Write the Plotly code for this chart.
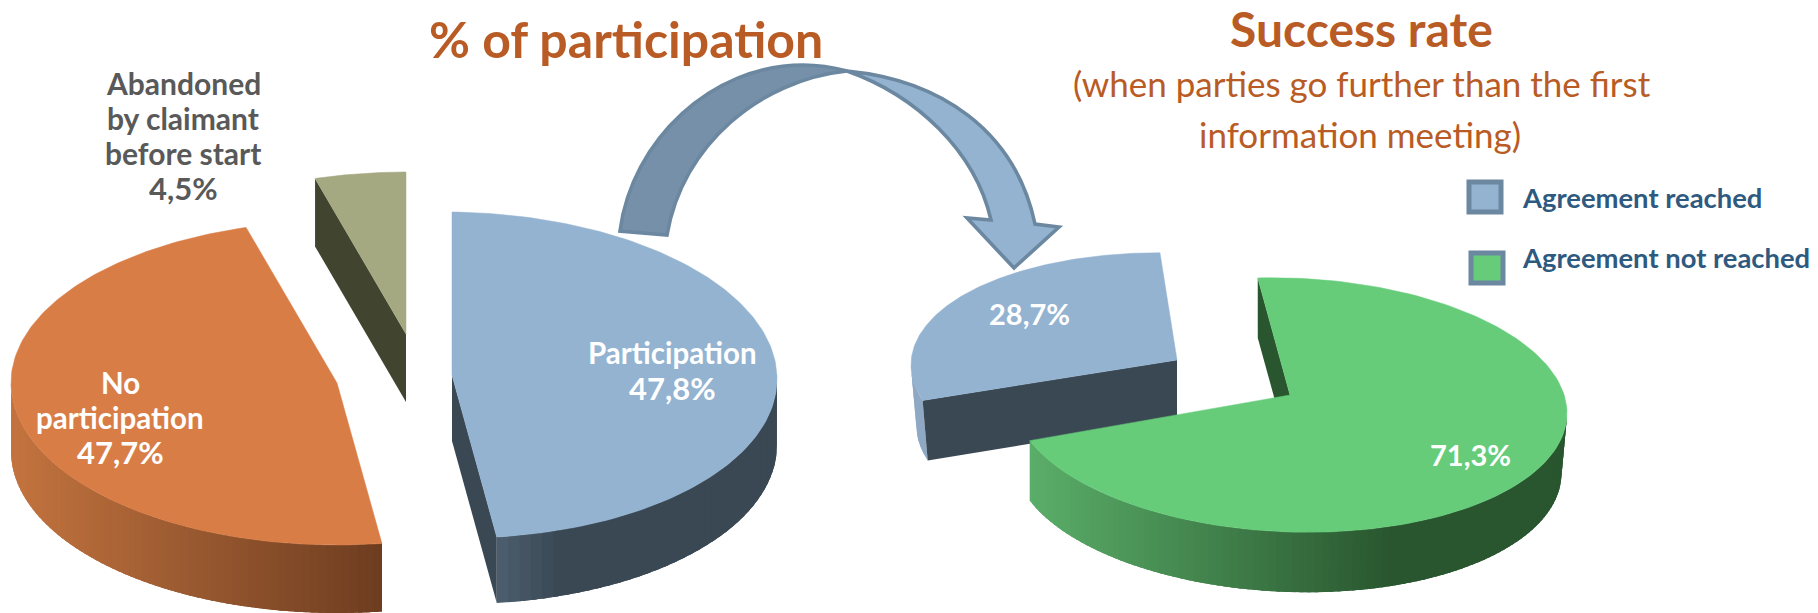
import numpy as np
import plotly.graph_objects as go

# ---------- data ----------
participation_labels = ["Participation", "No<br>participation", "Abandoned<br>by claimant<br>before start"]
participation_values = [47.8, 47.7, 4.5]
success_labels = ["Agreement reached", "Agreement not reached"]
success_values = [28.7, 71.3]

FONT = "Lato"
ORANGE_TXT = "#B95B25"
BLUE, BLUE_EDGE, BLUE_DARK = "#93B3D1", "#6C88A1", "#3A4854"
ORANGE = "#D97D47"
OLIVE, OLIVE_DARK = "#A4A981", "#41442F"
GREEN, GREEN_DARK = "#66CC7A", "#29562F"


def deg(values, start):
    """Cumulative clockwise angles (degrees from 12 o'clock) for percent values."""
    return start + np.concatenate([[0], np.cumsum(values)]) * 3.6


def pt(g, theta, depth=0.0):
    t = np.radians(theta)
    dx = g["rx"] * np.sin(t)
    y = g["cy"] - g["ry"] * np.cos(t) + g.get("tilt", 0) * dx
    if depth:
        dx = np.where(dx > 0, dx * g.get("shrink", 1), dx * g.get("shrink_l", 1))
        y = y + depth
    return g["cx"] + dx, y


def hexrgb(c):
    return np.array([int(c[i:i + 2], 16) for i in (1, 3, 5)], float)


def mix(stops, x):
    xs = [s[0] for s in stops]
    cs = np.array([hexrgb(s[1]) for s in stops])
    v = [np.interp(x, xs, cs[:, i]) for i in range(3)]
    return "rgb(%d,%d,%d)" % tuple(v)


fig = go.Figure()


def poly(x, y, color, lw=0.0):
    fig.add_trace(go.Scatter(
        x=list(x), y=list(y), mode="lines", fill="toself", fillcolor=color,
        line=dict(color=color, width=lw), hoverinfo="skip", showlegend=False))


def wall(g, a, b, stops, n=48):
    # strips are painted in order, each running over the next one, so no seams show
    ts = np.linspace(a, b, n + 1)
    step = ts[1] - ts[0]
    for i, t0 in enumerate(ts[:-1]):
        t1 = min(t0 + 2.5 * step, max(a, b)) if step > 0 else max(t0 + 2.5 * step, min(a, b))
        arc = np.linspace(t0, t1, 6)
        xt, yt = pt(g, arc)
        xb, yb = pt(g, arc, g["depth"])
        xm = pt(g, t0 + step / 2)[0]
        poly(np.r_[xt, xb[::-1], xt[0]], np.r_[yt, yb[::-1], yt[0]], mix(stops, float(xm)))


def cut(g, theta, color):
    x0, y0 = pt(g, theta)
    x1, y1 = pt(g, theta, g["depth"])
    ax, ay = g["ax"], g["ay"]
    poly([x0, ax, ax, x1, x0], [y0, ay, ay + g["depth"], y1, y0], color)


def top(g, a, b, color):
    ts = np.linspace(a, b, 160)
    x, y = pt(g, ts)
    poly(np.r_[g["ax"], x, g["ax"]], np.r_[g["ay"], y, g["ay"]], color, 0.5)


# ---------- left pie ----------
a = deg(participation_values, 0)
g_part = dict(cx=452, cy=375, ax=452, ay=375, rx=325, ry=163, depth=66, tilt=0.012)
g_none = dict(cx=337, cy=383, ax=337, ay=383, rx=326, ry=162, depth=68)
g_aban = dict(cx=406, cy=334, ax=406, ay=334, rx=326, ry=162, depth=68)

wall(g_part, a[1], 90, [(497, "#4D5E6F"), (560, BLUE_DARK), (777, BLUE_DARK)], 40)
cut(g_part, a[1], BLUE_DARK)
top(g_part, a[0], a[1], BLUE)

wall(g_none, 270, a[1], [(11, "#C4743F"), (190, "#9A5A31"), (382, "#6E3D20")], 70)
top(g_none, a[1], a[2], ORANGE)

cut(g_aban, a[2], OLIVE_DARK)
top(g_aban, a[2], a[3], OLIVE)

# ---------- right pie ----------
b_rea = deg(success_values, 253)
b_not = deg(success_values, 250)
g_rea = dict(cx=1177, cy=373, ax=1177, ay=360, rx=266, ry=120, depth=60, tilt=0.03, shrink_l=0.98)
g_not = dict(cx=1290, cy=405, ax=1290, ay=395, rx=277, ry=127, depth=60, tilt=0.03, shrink=0.98)

wall(g_rea, b_rea[0], 270, [(900, "#8FA9C4"), (930, "#8FA9C4")], 6)
cut(g_rea, b_rea[0], BLUE_DARK)
top(g_rea, b_rea[0], b_rea[1], BLUE)

cut(g_not, b_not[1], GREEN_DARK)
wall(g_not, b_not[0], 90, [(1015, "#5DB26C"), (1394, GREEN_DARK), (1565, GREEN_DARK)], 100)
top(g_not, b_not[1], b_not[2], GREEN)

# ---------- decoration ----------
LW = 3.6
shapes = [
    dict(type="path", xref="x", yref="y", layer="above", fillcolor="#7690A9",
         line=dict(color=BLUE_EDGE, width=LW),
         path="M 620,231 C 632,140 712,65 803,65 C 818,65 832,67 847,71 "
              "C 760,80 682,145 667,235 Z"),
    dict(type="path", xref="x", yref="y", layer="above", fillcolor=BLUE,
         line=dict(color=BLUE_EDGE, width=LW),
         path="M 847,71 C 940,80 1015,130 1035,224 L 1059,227 L 1014,268 L 967,218 L 991,220 "
              "C 975,150 915,95 847,71 Z"),
    dict(type="rect", xref="x", yref="y", x0=1469, x1=1501, y0=182, y1=212,
         fillcolor=BLUE, line=dict(color=BLUE_EDGE, width=5)),
    dict(type="rect", xref="x", yref="y", x0=1471, x1=1503, y0=253, y1=283,
         fillcolor=GREEN, line=dict(color=BLUE_EDGE, width=5)),
]


def pct(v):
    return f"{v:.1f}".replace(".", ",") + "%"


def label(x, y, text, size, color, is_bold=True, xanchor="center"):
    fig.add_annotation(x=x, y=y, xref="x", yref="y", text=f"<b>{text}</b>" if is_bold else text,
                       showarrow=False, xanchor=xanchor, yanchor="middle",
                       align="center", font=dict(family=FONT, size=size, color=color))


def block(x, y0, spacing, lines, sizes, color):
    for i, (line, size) in enumerate(zip(lines, sizes)):
        label(x, y0 + i * spacing, line, size, color)


label(626, 39, "% of participation", 50, ORANGE_TXT)
label(1361, 28, "Success rate", 48, ORANGE_TXT)
label(1362, 83, "(when parties go further than the first", 35, ORANGE_TXT, False)
label(1360, 134, "information meeting)", 35, ORANGE_TXT, False)

block(183, 83, 35, participation_labels[2].split("<br>") + [pct(participation_values[2])],
      [30, 30, 30, 31], "#595959")
block(120, 382, 35, participation_labels[1].split("<br>") + [pct(participation_values[1])],
      [29.5, 29.5, 31], "white")
block(672, 352, 36, [participation_labels[0], pct(participation_values[0])], [29.5, 31], "white")
label(1029, 313, pct(success_values[0]), 29, "white")
label(1470, 454, pct(success_values[1]), 29, "white")

label(1520, 197, success_labels[0], 27.4, "#2F5A80", xanchor="left")
label(1520, 257, success_labels[1], 27.4, "#2F5A80", xanchor="left")

fig.update_layout(
    width=1818, height=613, autosize=False,
    margin=dict(l=0, r=0, t=0, b=0),
    paper_bgcolor="white", plot_bgcolor="white",
    showlegend=False, shapes=shapes,
    xaxis=dict(range=[0, 1818], visible=False, fixedrange=True),
    yaxis=dict(range=[613, 0], visible=False, fixedrange=True),
)

fig.write_html("out.html", post_script="document.body.style.margin='0';",
               config=dict(displayModeBar=False))
